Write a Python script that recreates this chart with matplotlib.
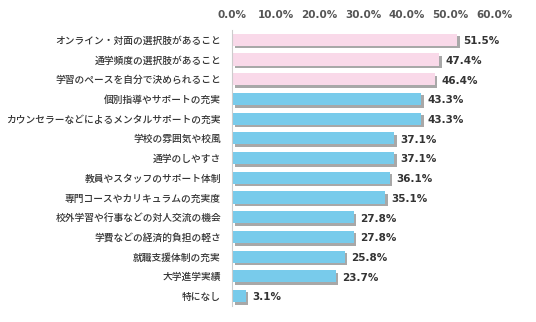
import matplotlib
matplotlib.use("Agg")
import matplotlib.pyplot as plt
import matplotlib.patheffects as pe
import numpy as np

plt.rcParams['font.family'] = ['Noto Sans CJK JP', 'DejaVu Sans']

categories = [
    "オンライン・対面の選択肢があること",
    "通学頻度の選択肢があること",
    "学習のペースを自分で決められること",
    "個別指導やサポートの充実",
    "カウンセラーなどによるメンタルサポートの充実",
    "学校の雰囲気や校風",
    "通学のしやすさ",
    "教員やスタッフのサポート体制",
    "専門コースやカリキュラムの充実度",
    "校外学習や行事などの対人交流の機会",
    "学費などの経済的負担の軽さ",
    "就職支援体制の充実",
    "大学進学実績",
    "特になし",
]
values = [51.5, 47.4, 46.4, 43.3, 43.3, 37.1, 37.1, 36.1, 35.1, 27.8, 27.8, 25.8, 23.7, 3.1]
highlight = [True, True, True] + [False] * 11
xticks = [0, 10, 20, 30, 40, 50, 60]

pink = "#F9D9E9"
blue = "#78CBEB"

fig = plt.figure(figsize=(5.36, 3.22), dpi=100)
ax = fig.add_axes([0.433, 0.05, 0.489, 0.857])

y = np.arange(len(categories))
colors = [pink if h else blue for h in highlight]
bars = ax.barh(y, values, height=0.62, color=colors, zorder=2)
for b in bars:
    b.set_path_effects([
        pe.SimplePatchShadow(offset=(1.8, -1.8), shadow_rgbFace="#7a7a7a", alpha=0.65),
        pe.Normal(),
    ])

for yi, v in zip(y, values):
    ax.annotate(f"{v:.1f}%", (v, yi), xytext=(4.5, -1), textcoords="offset points",
                ha="left", va="center", fontsize=7.5, color="#333333",
                fontweight="bold", family="DejaVu Sans")

ax.set_xlim(0, 60)
ax.set_ylim(len(categories) - 0.5, -0.5)
ax.set_xticks(xticks)
ax.set_xticklabels([f"{t:.1f}%" for t in xticks], family="DejaVu Sans",
                   fontsize=7.5, color="#555555", fontweight="bold")
ax.xaxis.tick_top()
ax.set_yticks(y)
ax.set_yticklabels(categories, fontsize=7, color="#333333", fontweight="medium")
ax.tick_params(axis="both", length=0)
ax.tick_params(axis="y", pad=8)
ax.tick_params(axis="x", pad=7)

for s in ["top", "right", "bottom"]:
    ax.spines[s].set_visible(False)
ax.spines["left"].set_color("#cccccc")
ax.spines["left"].set_linewidth(0.8)

fig.savefig("out.png", dpi=100)
